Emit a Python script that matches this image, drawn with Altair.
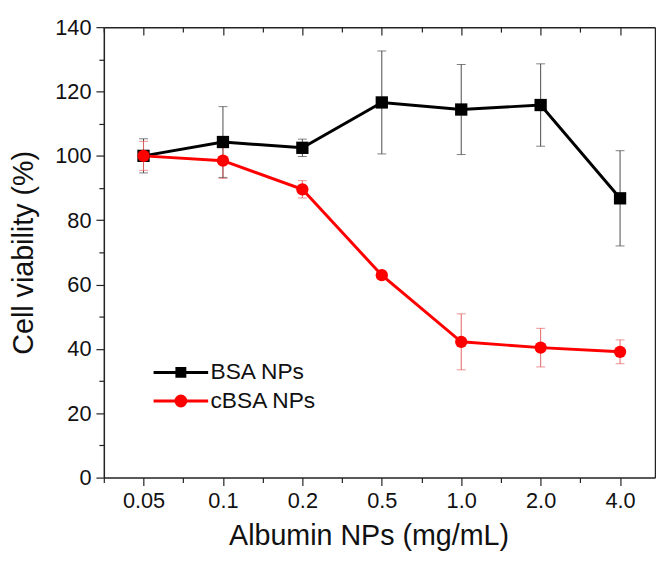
import json
import altair as alt
import pandas as pd

# ---- data ----
categories = ["0.05", "0.1", "0.2", "0.5", "1.0", "2.0", "4.0"]
series_names = ["BSA NPs", "cBSA NPs"]
bsa_mean = [100.0, 104.3, 102.5, 116.6, 114.4, 115.8, 86.8]
bsa_err = [5.3, 11.0, 2.7, 16.0, 14.0, 12.8, 14.8]
cbsa_mean = [100.0, 98.5, 89.6, 62.9, 42.2, 40.4, 39.1]
cbsa_err = [4.5, 5.5, 2.7, 0.8, 8.7, 6.0, 3.7]
y_ticks = [0, 10, 20, 30, 40, 50, 60, 70, 80, 90, 100, 110, 120, 130, 140]
x_ticks = [-0.5, 0, 0.5, 1, 1.5, 2, 2.5, 3, 3.5, 4, 4.5, 5, 5.5, 6]

line_colors = ["#000000", "#ff0000"]
err_colors = ["#4a4a4a", "#e46464"]
FONT = "Liberation Sans"
PLOT_W, PLOT_H = 558, 456

rows = []
for name, means, errs in [(series_names[0], bsa_mean, bsa_err),
                          (series_names[1], cbsa_mean, cbsa_err)]:
    for i, (c, m, e) in enumerate(zip(categories, means, errs)):
        rows.append({"idx": i, "conc": c, "series": name,
                     "mean": m, "lo": m - e, "hi": m + e})
df = pd.DataFrame(rows)

xscale = alt.Scale(domain=[-0.5, 6.44], nice=False, zero=False)
yscale = alt.Scale(domain=[0, 140], nice=False, zero=True)

label_expr_x = "datum.value % 1 === 0 ? " + json.dumps(categories) + "[datum.value] : ''"

x_bottom = alt.Axis(
    values=x_ticks, labelExpr=label_expr_x, grid=False,
    tickSize={"condition": {"test": "datum.value % 1 === 0", "value": 8}, "value": 5},
    tickColor="#222222", tickWidth=1.2, domainColor="#222222", domainWidth=1.5,
    labelFont=FONT, labelFontSize=22, labelColor="#111111", labelPadding=5,
    labelOverlap=False, labelFlush=False,
    title="Albumin NPs (mg/mL)", titleFont=FONT, titleFontSize=29,
    titleFontWeight="normal", titleColor="#111111",
    titleX=268, titleY=68, titleBaseline="alphabetic",
)
# top frame with inward ticks: a bottom-style axis moved up to the top edge
x_top = alt.Axis(
    orient="bottom", offset=-PLOT_H, values=x_ticks, labels=False, grid=False, title=None,
    tickSize={"condition": {"test": "datum.value % 1 === 0", "value": 8}, "value": 5},
    tickColor="#222222", tickWidth=1.2, domainColor="#222222", domainWidth=1.5,
)
y_left = alt.Axis(
    values=y_ticks, labelExpr="datum.value % 20 === 0 ? datum.label : ''", grid=False,
    tickSize={"condition": {"test": "datum.value % 20 === 0", "value": 8}, "value": 5},
    tickColor="#222222", tickWidth=1.2, domainColor="#222222", domainWidth=1.5,
    labelFont=FONT, labelFontSize=22, labelColor="#111111", labelPadding=5,
    labelOverlap=False, labelFlush=False,
    title="Cell viability (%)", titleFont=FONT, titleFontSize=29,
    titleFontWeight="normal", titleColor="#111111",
    titleX=-72, titleBaseline="alphabetic",
)
y_right = alt.Axis(orient="right", labels=False, ticks=False, grid=False, title=None,
                   domainColor="#222222", domainWidth=1.5)

base = alt.Chart(df)

# error bars
err_rule = base.mark_rule(strokeWidth=1).encode(
    x=alt.X("idx:Q", scale=xscale, axis=None),
    y=alt.Y("lo:Q", scale=yscale, axis=None),
    y2="hi:Q",
    color=alt.Color("series:N", scale=alt.Scale(domain=series_names, range=err_colors), legend=None),
)
err_caps = base.transform_fold(["lo", "hi"], as_=["end", "val"]).mark_tick(
    orient="horizontal", size=9, thickness=1
).encode(
    x=alt.X("idx:Q", scale=xscale, axis=None),
    y=alt.Y("val:Q", scale=yscale, axis=None),
    color=alt.Color("series:N", scale=alt.Scale(domain=series_names, range=err_colors), legend=None),
)

lines = base.mark_line(strokeWidth=3).encode(
    x=alt.X("idx:Q", scale=xscale, axis=x_bottom),
    y=alt.Y("mean:Q", scale=yscale, axis=y_left),
    color=alt.Color("series:N", scale=alt.Scale(domain=series_names, range=line_colors), legend=None),
)

points = base.mark_point(filled=True, size=155, opacity=1).encode(
    x=alt.X("idx:Q", scale=xscale, axis=x_top),
    y=alt.Y("mean:Q", scale=yscale, axis=y_right),
    color=alt.Color("series:N", scale=alt.Scale(domain=series_names, range=line_colors), legend=None),
    shape=alt.Shape("series:N", scale=alt.Scale(domain=series_names, range=["square", "circle"]), legend=None),
)

# legend symbols: a line segment through the marker
sq_path = "M-4.25,0H4.25M-0.62,-0.62H0.62V0.62H-0.62Z"
ci_path = "M-4.25,0H4.25M-0.77,0A0.77,0.77 0 1,0 0.77,0A0.77,0.77 0 1,0 -0.77,0Z"
legend_paths = [sq_path, ci_path]
legend_y = [338, 367]


def legend_layer(k):
    leg = alt.Legend(
        title=None, orient="none", legendX=66.5, legendY=legend_y[k], padding=0,
        symbolType=legend_paths[k], symbolSize=169, symbolStrokeWidth=3,
        symbolStrokeColor=line_colors[k], symbolFillColor=line_colors[k], symbolOpacity=1,
        labelFont=FONT, labelFontSize=23, labelColor="#111111", labelOffset=18.5,
    )
    return base.transform_filter(
        alt.datum.series == series_names[k]
    ).mark_point(filled=True, opacity=0, stroke=line_colors[k], strokeWidth=3).encode(
        x=alt.X("idx:Q", scale=xscale, axis=None),
        y=alt.Y("mean:Q", scale=yscale, axis=None),
        fill=alt.Fill("series:N", scale=alt.Scale(domain=[series_names[k]], range=[line_colors[k]]), legend=leg),
    )


chart = alt.layer(err_rule, err_caps, lines, points, legend_layer(0), legend_layer(1)).resolve_scale(
    color="independent", shape="independent", fill="independent"
).resolve_axis(
    x="independent", y="independent"
).properties(
    width=PLOT_W, height=PLOT_H,
    autosize=alt.AutoSizeParams(type="none"),
    padding={"left": 97, "top": 16, "right": 1, "bottom": 78},
    background="white",
).configure_view(stroke=None)

chart.save("out.html", embed_options={"renderer": "svg", "actions": False})
